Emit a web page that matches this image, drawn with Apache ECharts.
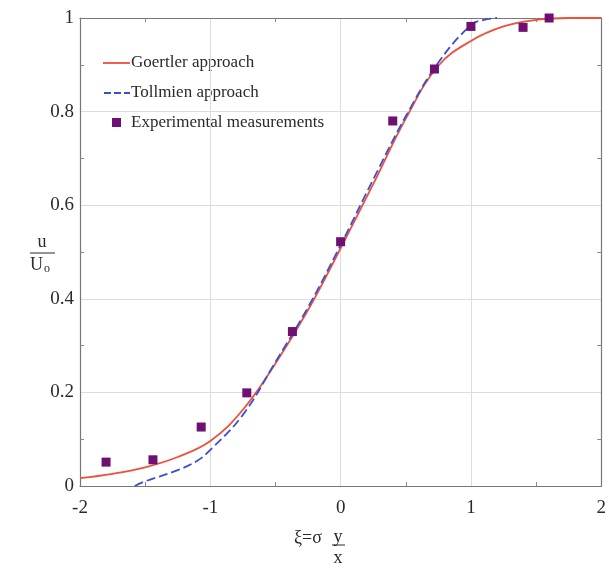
<!DOCTYPE html>
<html>
<head>
<meta charset="utf-8">
<script src="https://cdn.jsdelivr.net/npm/echarts@6/dist/echarts.min.js"></script>
<style>html,body{margin:0;padding:0;background:#fff}#c{width:609px;height:570px}</style>
</head>
<body>
<div id="c"></div>
<script>
const goertlerX = [-2, -1.75, -1.5, -1.25, -1, -0.75, -0.5, -0.25, 0, 0.25, 0.5, 0.75, 1, 1.25, 1.5, 1.75, 2];
const goertlerY = [0.017, 0.026, 0.04, 0.062, 0.096, 0.163, 0.262, 0.376, 0.508, 0.645, 0.785, 0.898, 0.951, 0.982, 0.996, 1.0, 1.0];
const tollmienX = [-1.58, -1.5, -1.25, -1.1, -1, -0.75, -0.5, -0.25, 0, 0.25, 0.5, 0.75, 1, 1.1, 1.2];
const tollmienY = [0.0, 0.01, 0.034, 0.054, 0.077, 0.152, 0.265, 0.382, 0.515, 0.655, 0.79, 0.905, 0.985, 0.996, 1.0];
const expX = [-1.8, -1.44, -1.07, -0.72, -0.37, 0.0, 0.4, 0.72, 1.0, 1.4, 1.6];
const expY = [0.051, 0.056, 0.126, 0.199, 0.33, 0.522, 0.78, 0.891, 0.982, 0.98, 1.0];
const xTicks = [-2, -1, 0, 1, 2];
const yTicks = [0, 0.2, 0.4, 0.6, 0.8, 1];
const seriesNames = ['Goertler approach', 'Tollmien approach', 'Experimental measurements'];

const zip = (a, b) => a.map((v, i) => [v, b[i]]);
const serif = 'Liberation Serif';
const RED = '#ef4f3b', BLUE = '#3b4fd4', PURPLE = '#6e0f72';
const chart = echarts.init(document.getElementById('c'));
const axisLine = {show: true, onZero: false, lineStyle: {color: '#777', width: 1.2}};
const axisTick = {show: false, inside: true};
const minorTick = {show: true, splitNumber: 2, length: 4, lineStyle: {color: '#888'}};
const txt = (x, y, text, size, align) => ({type: 'text', x, y, silent: true,
  style: {text, fontFamily: serif, fontSize: size, fill: '#2a2a2a', verticalAlign: 'middle', align: align || 'left'}});
chart.setOption({
  backgroundColor: '#fff',
  animation: false,
  grid: {left: 80, right: 5, top: 18, bottom: 84},
  xAxis: [{
    type: 'value', min: -2, max: 2, interval: 1,
    axisLine, axisTick, minorTick,
    axisLabel: {fontFamily: serif, fontSize: 19, color: '#2a2a2a', margin: 13,
      formatter: v => xTicks.includes(v) ? String(v) : ''},
    splitLine: {show: true, lineStyle: {color: '#dcdcdc'}}
  }, {
    type: 'value', min: -2, max: 2, interval: 1, position: 'top',
    axisLine, axisTick, axisLabel: {show: false}, minorTick,
    splitLine: {show: false}
  }],
  yAxis: [{
    type: 'value', min: 0, max: 1, interval: 0.2,
    axisLine, axisTick, minorTick,
    axisLabel: {fontFamily: serif, fontSize: 19, color: '#2a2a2a', margin: 6,
      formatter: v => { const t = yTicks.find(k => Math.abs(k - v) < 1e-9); return t === undefined ? '' : String(t); }},
    splitLine: {show: true, lineStyle: {color: '#dcdcdc'}}
  }, {
    type: 'value', min: 0, max: 1, interval: 0.2, position: 'right',
    axisLine, axisTick, axisLabel: {show: false}, minorTick,
    splitLine: {show: false}
  }],
  series: [
    {name: seriesNames[0], type: 'line', smooth: 0.4, symbol: 'none',
     data: zip(goertlerX, goertlerY), lineStyle: {color: RED, width: 1.8}, itemStyle: {color: RED}},
    {name: seriesNames[1], type: 'line', smooth: 0.4, symbol: 'none',
     data: zip(tollmienX, tollmienY), lineStyle: {color: BLUE, width: 1.8, type: [9, 4]}, itemStyle: {color: BLUE}},
    {name: seriesNames[2], type: 'scatter', symbol: 'rect', symbolSize: 9,
     data: zip(expX, expY), itemStyle: {color: PURPLE, opacity: 1}, z: 5}
  ],
  graphic: [
    {type: 'line', silent: true, shape: {x1: 103, y1: 63, x2: 130, y2: 63}, style: {stroke: RED, lineWidth: 1.8}},
    txt(131, 63, seriesNames[0], 17),
    {type: 'line', silent: true, shape: {x1: 104, y1: 93, x2: 130, y2: 93}, style: {stroke: BLUE, lineWidth: 1.8, lineDash: [7, 3]}},
    txt(131, 93, seriesNames[1], 17),
    {type: 'rect', silent: true, shape: {x: 112, y: 118, width: 9, height: 9}, style: {fill: PURPLE}},
    txt(131, 123, seriesNames[2], 17),
    txt(294, 538, 'ξ=σ', 18),
    txt(338, 537, 'y', 18, 'center'),
    {type: 'line', silent: true, shape: {x1: 332, y1: 545, x2: 345, y2: 545}, style: {stroke: '#2a2a2a', lineWidth: 1}},
    txt(338, 558, 'x', 18, 'center'),
    txt(42, 242, 'u', 18, 'center'),
    {type: 'line', silent: true, shape: {x1: 30, y1: 253, x2: 55, y2: 253}, style: {stroke: '#2a2a2a', lineWidth: 1}},
    txt(30, 265, 'U', 18),
    txt(44, 269, 'o', 12)
  ]
});
</script>
</body>
</html>
